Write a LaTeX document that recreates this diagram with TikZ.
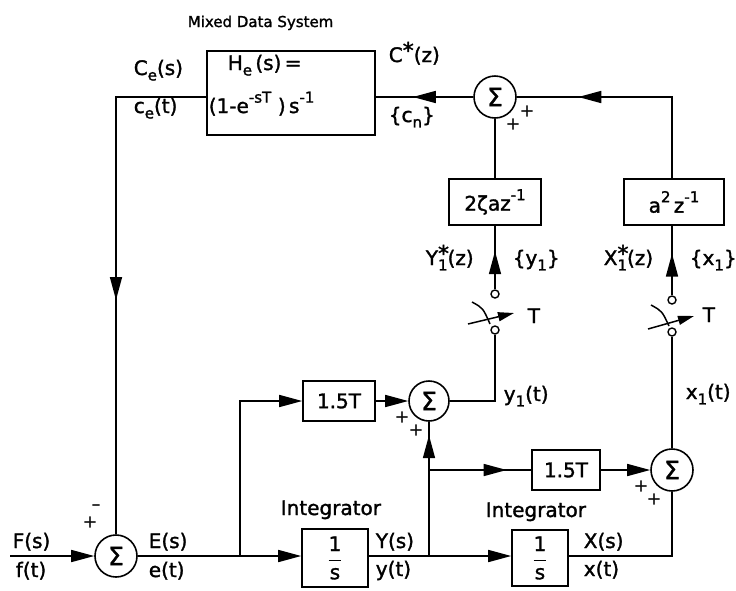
\documentclass[tikz,border=0pt]{standalone}
\usepackage{fontspec}
\setmainfont{DejaVu Sans}[FakeBold=1.5]
\usetikzlibrary{arrows.meta,decorations.markings}
\newcommand{\lo}[1]{\raisebox{-0.5ex}{\fontsize{15}{15}\selectfont #1}}
\newcommand{\hi}[1]{\raisebox{0.95ex}{\fontsize{15}{15}\selectfont #1}}
\newcommand{\st}{\raisebox{0.35ex}{\fontsize{22}{22}\selectfont *}}
\begin{document}
\begin{tikzpicture}[x=1pt,y=-1pt, line width=1.6pt,
  every node/.style={font=\fontsize{20}{24}\selectfont, inner sep=0pt},
  blk/.style={draw, line width=1.6pt},
  sumc/.style={draw, circle, minimum size=42pt, line width=1.6pt, font=\fontsize{25}{25}\selectfont},
  tap/.style={draw, circle, minimum size=8pt, line width=1.4pt, fill=white},
  tip/.style={-{Triangle[length=23pt,width=12pt]}},
  swtip/.style={-{Triangle[length=16pt,width=9pt]}},
  arrowat/.style={postaction={decorate}, decoration={markings, mark=at position #1 with {\arrow{Triangle[length=23pt,width=12pt]}}}},
  sml/.style={font=\fontsize{17}{17}\selectfont},
  lbl/.style={anchor=base west}
]
\useasboundingbox (0,0) rectangle (736,590);

% title
\node[lbl] (title) at (187,27) {\fontsize{15}{18}\selectfont Mixed Data System};

% blocks
\node[blk, minimum width=168pt, minimum height=84pt] (He) at (291,93) {};
\node[lbl] (Het1) at (227,70) {H\lo{e}\,(s)\,=};
\node[lbl] (Het2) at (208,113) {(1-e\hi{-sT}\,\,)\,s\hi{-1}};

\node[sumc] (sumT) at (495,97) {Σ};
\node[blk, minimum width=92pt, minimum height=46pt] (B2z) at (495,202) {2ζaz\hi{-1}};
\node[blk, minimum width=100pt, minimum height=46pt] (Ba2) at (674,202) {a\hi{2}\,z\hi{-1}};

\node[sumc] (sumE) at (116,556) {Σ};
\node[sumc, minimum size=40pt] (sumU) at (429,401) {Σ};
\node[sumc] (sumR) at (672,470) {Σ};

\node[blk, minimum width=72pt, minimum height=40pt] (B15a) at (339,401) {1.5T};
\node[blk, minimum width=68pt, minimum height=40pt] (B15b) at (566,470) {1.5T};
\node[blk, minimum width=66pt, minimum height=58pt] (Int1) at (335,558) {$\displaystyle\frac{\mbox{1}}{\mbox{s}}$};
\node[blk, minimum width=56pt, minimum height=56pt] (Int2) at (540,558) {$\displaystyle\frac{\mbox{1}}{\mbox{s}}$};

% sampler taps
\node[tap] (swLt) at (495,294) {};
\node[tap] (swLb) at (495,330) {};
\node[tap] (swRt) at (672,300) {};
\node[tap] (swRb) at (672,332) {};

% coordinates
\coordinate (in) at (10,556);
\coordinate (b1) at (240,556);
\coordinate (b2) at (429,556);
\coordinate (b3) at (429,470);

% connectors
\draw[tip] (in) -- (sumE.west);
\draw[tip] (sumE.east) -- (sumE.east -| Int1.west);
\draw[tip] (b1) |- (B15a.west);
\draw[tip] (Int1.east |- b2) -- (Int2.west |- b2);
\draw[arrowat=0.9] (b2) -- (sumU.south);
\draw[arrowat=0.76] (b3) -- (B15b.west);
\draw[tip] (B15a.east) -- (sumU.west);
\draw[tip] (B15b.east) -- (sumR.west);
\draw (Int2.east |- b2) -| (sumR.south);
\draw (sumU.east) -| (swLb.south);
\draw (sumR.north) -- (swRb.south);
\draw[arrowat=0.6] (swLt.north) -- (B2z.south);
\draw[arrowat=0.6] (swRt.north) -- (swRt.north |- Ba2.south);
\draw (B2z.north) -- (sumT.south);
\draw[arrowat=0.74] (sumR.north |- Ba2.north) |- (sumT.east);
\draw[arrowat=0.62] (sumT.west) -- (sumT.west -| He.east);
\draw[arrowat=0.556] (He.west |- sumT.west) -| (sumE.north);

% sampler levers
\draw[line width=1.5pt] (472,302) .. controls (483,308) .. (490,324);
\draw[swtip, line width=1.5pt] (468,324) -- (514,313);
\draw[line width=1.5pt] (651,305) .. controls (662,311) .. (669,326);
\draw[swtip, line width=1.5pt] (648,329) -- (694,316);
\node[lbl] (TL) at (527,323) {T};
\node[lbl] (TR) at (702,322) {T};

% labels
\node[lbl] (Ces) at (133,75) {C\lo{e}(s)};
\node[lbl] (cet) at (133,113) {c\lo{e}(t)};
\node[lbl] (Cz) at (388,62) {C\st(z)};
\node[lbl] (cn) at (388,122) {\{c\lo{n}\}};
\node[lbl] (Yz) at (425,265) {Y\rlap{\st}\lo{1}(z)};
\node[lbl] (y1s) at (512,265) {\{y\lo{1}\}};
\node[lbl] (Xz) at (603,265) {X\rlap{\st}\lo{1}(z)};
\node[lbl] (x1s) at (689,265) {\{x\lo{1}\}};
\node[lbl] (y1t) at (503,401) {y\lo{1}(t)};
\node[lbl] (x1t) at (685,399) {x\lo{1}(t)};
\node[lbl] (Fs) at (12,548) {F(s)};
\node[lbl] (ft) at (15,577) {f(t)};
\node[lbl] (Es) at (148,548) {E(s)};
\node[lbl] (et) at (148,577) {e(t)};
\node[lbl] (Ys) at (375,548) {Y(s)};
\node[lbl] (yt) at (375,576) {y(t)};
\node[lbl] (Xs) at (583,548) {X(s)};
\node[lbl] (xt) at (583,576) {x(t)};
\node[lbl] (I1) at (280,515) {Integrator};
\node[lbl] (I2) at (485,517) {Integrator};

% signs
\node[sml] (pE) at (90,522) {+};
\node[sml] (mE) at (96,507) {–};
\node[sml] (pT1) at (513,124) {+};
\node[sml] (pT2) at (527,111) {+};
\node[sml] (pU1) at (402,417) {+};
\node[sml] (pU2) at (416,430) {+};
\node[sml] (pR1) at (641,486) {+};
\node[sml] (pR2) at (654,499) {+};
\end{tikzpicture}
\end{document}
